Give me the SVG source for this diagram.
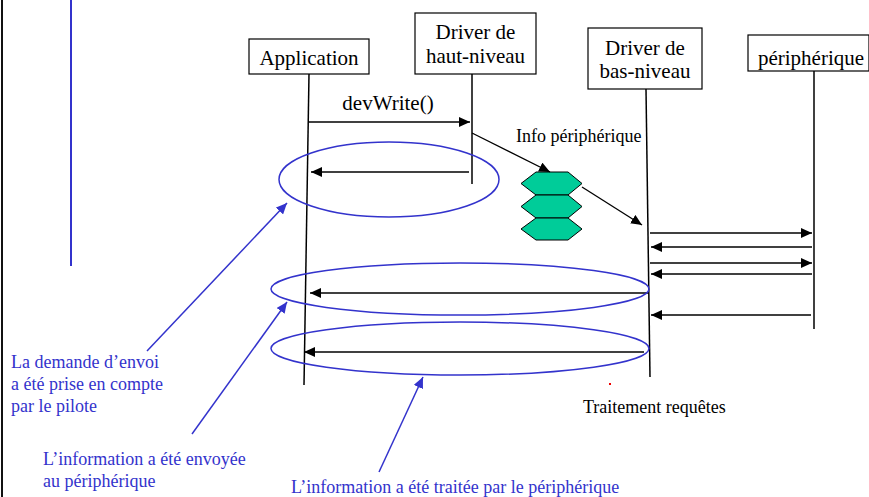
<svg xmlns="http://www.w3.org/2000/svg" width="869" height="497" viewBox="0 0 869 497">
  <defs>
    <marker id="ah" markerUnits="userSpaceOnUse" markerWidth="12" markerHeight="10" refX="11" refY="5" orient="auto">
      <path d="M0,0 L11,5 L0,10 Z" fill="#000"/>
    </marker>
    <marker id="ahb" markerUnits="userSpaceOnUse" markerWidth="12" markerHeight="10" refX="11" refY="5" orient="auto">
      <path d="M0,0 L11,5 L0,10 Z" fill="#3333CC"/>
    </marker>
  </defs>
  <style>
    .box { fill: #fff; stroke: #000; stroke-width: 1.2; }
    .life { stroke: #000; stroke-width: 1.5; fill: none; }
    .msg { stroke: #000; stroke-width: 1.3; fill: none; marker-end: url(#ah); }
    .t { fill: #000; }
    .lbl { font-size: 21px; text-anchor: middle; }
    .sm { font-size: 18px; }
    .blue { font-size: 18px; fill: #3333CC; }
    .ring { fill: none; stroke: #3333CC; stroke-width: 1.5; }
    .ptr { stroke: #3333CC; stroke-width: 1.5; fill: none; marker-end: url(#ahb); }
    .hex { fill: #00CC99; stroke: #000; stroke-width: 1; }
  </style>

  <rect width="869" height="497" fill="#fff"/>

  <!-- page frame and side rule -->
  <line x1="2" y1="0" x2="2" y2="497" stroke="#111" stroke-width="2"/>
  <line x1="71" y1="0" x2="71" y2="266" stroke="#3333CC" stroke-width="2"/>

  <g font-family="Liberation Serif">
  <!-- participants -->
  <g id="application">
    <rect class="box" x="249" y="39" width="120" height="35"/>
    <text class="t lbl" x="309" y="65">Application</text>
  </g>
  <g id="driver-haut">
    <rect class="box" x="415" y="13" width="121" height="61"/>
    <text class="t lbl" x="475.5" y="39">Driver de</text>
    <text class="t lbl" x="475.5" y="63">haut-niveau</text>
  </g>
  <g id="driver-bas">
    <rect class="box" x="588" y="28" width="114" height="61"/>
    <text class="t lbl" x="645" y="55">Driver de</text>
    <text class="t lbl" x="645" y="78">bas-niveau</text>
  </g>
  <g id="peripherique">
    <rect class="box" x="748" y="35" width="121" height="36"/>
    <text class="t lbl" x="811" y="65">périphérique</text>
  </g>

  <!-- request queue -->
  <g id="file-requetes">
    <polygon class="hex" points="536,172 568,172 582,183.5 568,195 536,195 521,183.5"/>
    <polygon class="hex" points="536,195 568,195 582,206.5 568,218 536,218 521,206.5"/>
    <polygon class="hex" points="536,218 568,218 582,229 568,240 536,240 521,229"/>
  </g>

  <!-- lifelines and messages -->
  <g id="connecteurs">
    <line class="life" x1="309" y1="74" x2="304" y2="385"/>
    <line class="life" x1="472" y1="74" x2="472" y2="184" stroke-width="2"/>
    <line class="life" x1="646" y1="89" x2="650" y2="377"/>
    <line class="life" x1="814" y1="71" x2="814" y2="329" stroke-width="2"/>

    <line class="msg" x1="309" y1="122" x2="470" y2="122"/>
    <line class="msg" x1="469" y1="172" x2="311" y2="172"/>
    <line class="msg" x1="472" y1="133" x2="550" y2="172"/>
    <line class="msg" x1="582" y1="187" x2="642" y2="225"/>

    <line class="msg" x1="650" y1="233" x2="812" y2="233"/>
    <line class="msg" x1="812" y1="247" x2="651" y2="247"/>
    <line class="msg" x1="650" y1="263" x2="812" y2="263"/>
    <line class="msg" x1="812" y1="274" x2="651" y2="274"/>
    <line class="msg" x1="811" y1="315" x2="651" y2="315"/>

    <line class="msg" x1="649" y1="293" x2="310" y2="293"/>
    <line class="msg" x1="644" y1="352" x2="304" y2="352"/>
  </g>
  <text class="t lbl" x="388" y="110">devWrite()</text>

  <!-- highlighted phases -->
  <g id="phases">
    <ellipse class="ring" cx="389" cy="179.5" rx="110" ry="37.5"/>
    <ellipse class="ring" cx="460" cy="289" rx="189" ry="26"/>
    <ellipse class="ring" cx="460" cy="348.5" rx="189" ry="26.5"/>
  </g>

  <text class="t sm" x="516" y="142">Info périphérique</text>
  <text class="t sm" x="583" y="413">Traitement requêtes</text>
  <rect x="609" y="383" width="2" height="2" fill="#e00"/>

  <!-- annotations -->
  <g id="note-demande">
    <line class="ptr" x1="147" y1="351" x2="287" y2="203"/>
    <text class="blue" x="11" y="368">La demande d’envoi</text>
    <text class="blue" x="11" y="390">a été prise en compte</text>
    <text class="blue" x="11" y="412">par le pilote</text>
  </g>
  <g id="note-envoi">
    <line class="ptr" x1="192" y1="434" x2="287" y2="302"/>
    <text class="blue" x="43" y="465">L’information a été envoyée</text>
    <text class="blue" x="43" y="487">au périphérique</text>
  </g>
  <g id="note-traitee">
    <line class="ptr" x1="379" y1="472" x2="423" y2="377"/>
    <text class="blue" x="291" y="493">L’information a été traitée par le périphérique</text>
  </g>
  </g>
</svg>
